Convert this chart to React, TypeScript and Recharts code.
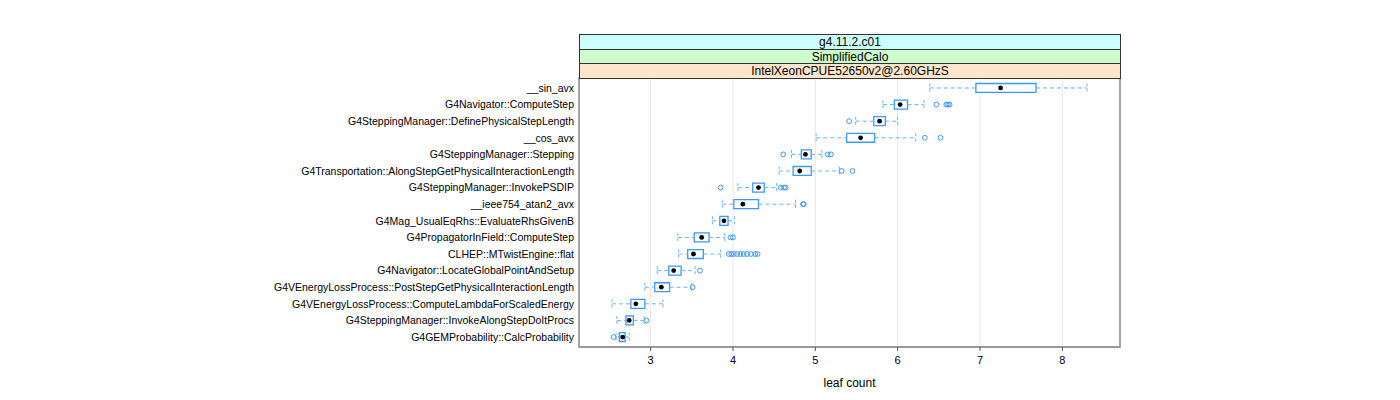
import {
  CartesianGrid,
  ComposedChart,
  ReferenceArea,
  ReferenceLine,
  Scatter,
  XAxis,
  YAxis,
} from "recharts";

const BOX_COLOR = "#3b98ff"; // lattice box.rectangle
const WHISKER_COLOR = "#6ab3ff"; // box.umbrella, dashed
const PANEL_BORDER = "#8c8c8c";
const FONT = '"Liberation Sans", Arial, Helvetica, sans-serif';

// top → bottom, as the panel shows them
const functionNames = [
  "__sin_avx",
  "G4Navigator::ComputeStep",
  "G4SteppingManager::DefinePhysicalStepLength",
  "__cos_avx",
  "G4SteppingManager::Stepping",
  "G4Transportation::AlongStepGetPhysicalInteractionLength",
  "G4SteppingManager::InvokePSDIP",
  "__ieee754_atan2_avx",
  "G4Mag_UsualEqRhs::EvaluateRhsGivenB",
  "G4PropagatorInField::ComputeStep",
  "CLHEP::MTwistEngine::flat",
  "G4Navigator::LocateGlobalPointAndSetup",
  "G4VEnergyLossProcess::PostStepGetPhysicalInteractionLength",
  "G4VEnergyLossProcess::ComputeLambdaForScaledEnergy",
  "G4SteppingManager::InvokeAlongStepDoItProcs",
  "G4GEMProbability::CalcProbability",
];

const whiskerLow = [6.39, 5.82, 5.49, 5.01, 4.71, 4.56, 4.06, 3.87, 3.75, 3.33, 3.34, 3.08, 2.93, 2.53, 2.59, 2.58];
const lowerQuartile = [6.95, 5.96, 5.71, 5.38, 4.83, 4.73, 4.24, 4.01, 3.84, 3.53, 3.45, 3.22, 3.05, 2.76, 2.7, 2.62];
const medians = [7.25, 6.03, 5.78, 5.55, 4.88, 4.81, 4.31, 4.12, 3.89, 3.62, 3.52, 3.28, 3.13, 2.82, 2.74, 2.66];
const upperQuartile = [7.68, 6.12, 5.85, 5.72, 4.95, 4.95, 4.38, 4.31, 3.94, 3.71, 3.64, 3.37, 3.23, 2.93, 2.79, 2.69];
const whiskerHigh = [8.3, 6.32, 6.0, 6.22, 5.08, 5.29, 4.53, 4.76, 4.02, 3.9, 3.85, 3.54, 3.5, 3.15, 2.92, 2.74];
const outliers = [
  [],
  [6.47, 6.59, 6.61, 6.63],
  [5.41],
  [6.33, 6.52],
  [4.61, 5.15, 5.19],
  [5.32, 5.45],
  [3.85, 4.58, 4.62, 4.64],
  [4.85, 4.86],
  [],
  [3.97, 4.0],
  [3.95, 3.98, 4.01, 4.05, 4.09, 4.13, 4.17, 4.22, 4.27, 4.3],
  [3.6],
  [3.51],
  [],
  [2.95],
  [2.55],
];

const xTicks = [3, 4, 5, 6, 7, 8];
const stripLabels = ["g4.11.2.c01", "SimplifiedCalo", "IntelXeonCPUE52650v2@2.60GHzS"];
const stripColors = ["#ccffff", "#ccffcc", "#ffe5cc"];

const X_DOMAIN: [number, number] = [2.13, 8.7];
const Y_DOMAIN: [number, number] = [0.4, 16.6];
const HALF = 0.27; // half box height, in row units

const rowIndex = functionNames.map((_, i) => i + 1);
const medianPoints = rowIndex.map((y, i) => ({ x: medians[i], y }));
const outlierPoints = outliers.flatMap((vals, i) => vals.map((x) => ({ x, y: i + 1 })));

function OpenCircle(props: any) {
  const { cx, cy } = props;
  if (cx == null || cy == null) return null;
  return <circle cx={cx} cy={cy} r={2.4} fill="none" stroke={BOX_COLOR} strokeWidth={1} />;
}

function Dot(props: any) {
  const { cx, cy } = props;
  if (cx == null || cy == null) return null;
  return <circle cx={cx} cy={cy} r={2.4} fill="#000" />;
}

export default function App() {
  return (
    <div style={{ position: "absolute", left: 0, top: 0, width: 1400, height: 400, background: "#fff", fontFamily: FONT }}>
      <ComposedChart
        width={1400}
        height={400}
        margin={{ top: 48, right: 280, bottom: 23, left: 0 }}
      >
        <CartesianGrid xAxisId="bottom" horizontal={false} stroke="#e8e8e8" />
        <XAxis
          xAxisId="bottom"
          type="number"
          dataKey="x"
          domain={X_DOMAIN}
          ticks={xTicks}
          allowDataOverflow
          height={30}
          tickSize={4}
          tickMargin={5}
          axisLine={{ stroke: PANEL_BORDER }}
          tickLine={{ stroke: "#555" }}
          tick={{ fontSize: 11, fill: "#000", fontFamily: FONT }}
          label={{ value: "leaf count", position: "bottom", offset: 1, fontSize: 12, fill: "#000", fontFamily: FONT }}
        />
        <XAxis
          xAxisId="top"
          orientation="top"
          type="number"
          dataKey="x"
          domain={X_DOMAIN}
          ticks={xTicks}
          allowDataOverflow
          height={30}
          tickSize={48}
          tick={false}
          axisLine={{ stroke: PANEL_BORDER }}
          tickLine={{ stroke: "#555" }}
        />
        <YAxis
          yAxisId="rows"
          type="number"
          dataKey="y"
          domain={Y_DOMAIN}
          reversed
          allowDataOverflow
          ticks={rowIndex}
          interval={0}
          width={579}
          tickSize={0}
          tickMargin={5}
          axisLine={false}
          tickLine={false}
          tickFormatter={(v: number) => functionNames[v - 1] ?? ""}
          tick={{ fontSize: 10.5, fill: "#000", fontFamily: FONT }}
        />

        {/* panel frame */}
        <ReferenceArea
          xAxisId="bottom"
          yAxisId="rows"
          x1={X_DOMAIN[0]}
          x2={X_DOMAIN[1]}
          y1={Y_DOMAIN[0]}
          y2={Y_DOMAIN[1]}
          fill="none"
          stroke={PANEL_BORDER}
          strokeWidth={1.5}
          ifOverflow="visible"
        />

        {rowIndex.map((y, i) => (
          <ReferenceLine
            key={`wl-${y}`}
            xAxisId="bottom"
            yAxisId="rows"
            segment={[{ x: whiskerLow[i], y }, { x: lowerQuartile[i], y }]}
            stroke={WHISKER_COLOR}
            strokeDasharray="4 3"
          />
        ))}
        {rowIndex.map((y, i) => (
          <ReferenceLine
            key={`wh-${y}`}
            xAxisId="bottom"
            yAxisId="rows"
            segment={[{ x: upperQuartile[i], y }, { x: whiskerHigh[i], y }]}
            stroke={WHISKER_COLOR}
            strokeDasharray="4 3"
          />
        ))}
        {rowIndex.map((y, i) => (
          <ReferenceLine
            key={`cl-${y}`}
            xAxisId="bottom"
            yAxisId="rows"
            segment={[{ x: whiskerLow[i], y: y - HALF }, { x: whiskerLow[i], y: y + HALF }]}
            stroke={WHISKER_COLOR}
            strokeDasharray="3 2"
          />
        ))}
        {rowIndex.map((y, i) => (
          <ReferenceLine
            key={`ch-${y}`}
            xAxisId="bottom"
            yAxisId="rows"
            segment={[{ x: whiskerHigh[i], y: y - HALF }, { x: whiskerHigh[i], y: y + HALF }]}
            stroke={WHISKER_COLOR}
            strokeDasharray="3 2"
          />
        ))}
        {rowIndex.map((y, i) => (
          <ReferenceArea
            key={`box-${y}`}
            xAxisId="bottom"
            yAxisId="rows"
            x1={lowerQuartile[i]}
            x2={upperQuartile[i]}
            y1={y - HALF}
            y2={y + HALF}
            fill="#fff"
            fillOpacity={1}
            stroke={BOX_COLOR}
            strokeWidth={1.3}
          />
        ))}

        <Scatter
          xAxisId="bottom"
          yAxisId="rows"
          data={outlierPoints}
          shape={<OpenCircle />}
          isAnimationActive={false}
        />
        <Scatter
          xAxisId="bottom"
          yAxisId="rows"
          data={medianPoints}
          shape={<Dot />}
          isAnimationActive={false}
        />
      </ComposedChart>

      {/* lattice strips above the panel */}
      {stripLabels.map((label, i) => (
        <div
          key={label}
          style={{
            position: "absolute",
            left: 579,
            top: 34 + i * 14.7,
            width: 540,
            height: 13.7,
            background: stripColors[i],
            border: "1px solid #333",
            borderBottom: i === 2 ? "1px solid #333" : "none",
            fontSize: 12,
            lineHeight: "14px",
            textAlign: "center",
            color: "#000",
            boxSizing: "content-box",
          }}
        >
          {label}
        </div>
      ))}
    </div>
  );
}
